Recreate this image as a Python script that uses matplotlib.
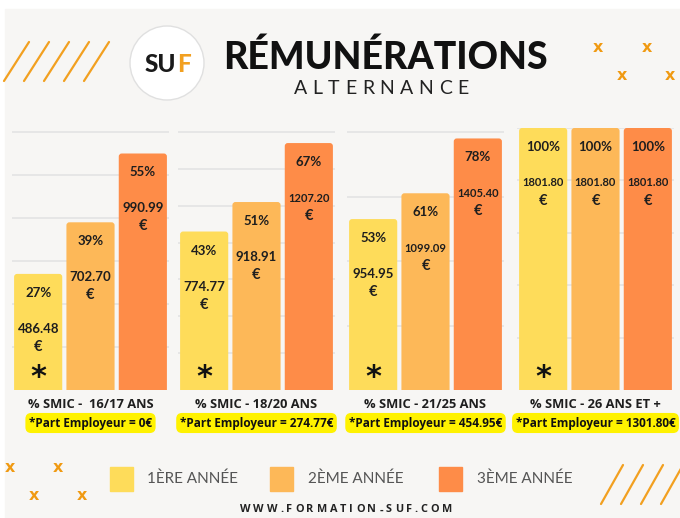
import matplotlib
matplotlib.use("Agg")
import matplotlib.pyplot as plt
from matplotlib.patches import Circle, Rectangle, FancyBboxPatch

# ---------------- data ----------------
categories = ["% SMIC -  16/17 ANS", "% SMIC - 18/20 ANS",
              "% SMIC - 21/25 ANS", "% SMIC - 26 ANS ET +"]
years = ["1ÈRE ANNÉE", "2ÈME ANNÉE", "3ÈME ANNÉE"]
pct_16_17 = [27, 39, 55]
pct_18_20 = [43, 51, 67]
pct_21_25 = [53, 61, 78]
pct_26_plus = [100, 100, 100]
eur_16_17 = [486.48, 702.70, 990.99]
eur_18_20 = [774.77, 918.91, 1207.20]
eur_21_25 = [954.95, 1099.09, 1405.40]
eur_26_plus = [1801.80, 1801.80, 1801.80]
employer_part = ["0€", "274.77€", "454.95€", "1301.80€"]
grid_max = [60, 70, 80, 100]
grid_step = [10, 10, 20, 20]

pcts = [pct_16_17, pct_18_20, pct_21_25, pct_26_plus]
eurs = [eur_16_17, eur_18_20, eur_21_25, eur_26_plus]

# ---------------- style ----------------
W, H = 680, 518
BG = "#F7F6F4"
COLORS = ["#FEDC5A", "#FDB858", "#FE8C48"]
ACCENT = "#F2A020"
TXT = "#1E1E1E"

fig = plt.figure(figsize=(W / 100, H / 100), dpi=100, facecolor="white")
bg = fig.add_axes([0, 0, 1, 1], zorder=0)
bg.set_xlim(0, W)
bg.set_ylim(H, 0)
bg.axis("off")
bg.add_patch(Rectangle((5, 9), W - 5, H - 9, color=BG, zorder=0))

renderer = fig.canvas.get_renderer()


def tracked(xc, y, s, spacing, **kw):
    widths = []
    for ch in s:
        t = bg.text(0, 0, ch, **kw)
        widths.append(t.get_window_extent(renderer=renderer).width)
        t.remove()
    total = sum(widths) + spacing * (len(s) - 1)
    x = xc - total / 2
    for ch, w in zip(s, widths):
        bg.text(x + w / 2, y, ch, ha="center", va="center", **kw)
        x += w + spacing


# decorative stripes
for i in range(5):
    x0 = 4 + 20 * i
    bg.plot([x0, x0 + 25], [81, 42], color=ACCENT, lw=1.6, solid_capstyle="round", zorder=1)
for i in range(5):
    x0 = 601 + 20 * i
    bg.plot([x0, x0 + 22], [504, 465], color=ACCENT, lw=1.6, solid_capstyle="round", zorder=1)

# x marks
for (x, y) in [(598, 47), (647, 47), (622, 76), (670, 76),
               (10, 468), (58, 468), (34, 496), (82, 496)]:
    bg.text(x, y, "x", color="#F09A12", fontsize=11.5, fontweight="bold",
            family="DejaVu Sans", ha="center", va="center", zorder=2)

# logo
bg.add_patch(Circle((167, 63), 37, fc="white", ec="#E0E0E0", lw=1.0, zorder=2))
bg.text(176, 64, "SU", ha="right", va="center", fontsize=17.5, fontweight="black",
        family="Lato", color="#1A1A1A", zorder=3)
bg.text(177, 64, "F", ha="left", va="center", fontsize=17.5, fontweight="black",
        family="Lato", color=ACCENT, zorder=3)

# title
bg.text(385, 57, "RÉMUNÉRATIONS", ha="center", va="center", fontsize=27,
        fontweight="black", family="Lato", color="#111111", zorder=3)
tracked(381, 89, "ALTERNANCE", 5.5, fontsize=14, family="Lato", color="#222222", zorder=3)

# ---------------- panels ----------------
lefts = [12, 178, 347, 517]
pw = 157
top_px, base_px = 128, 390
ph = base_px - top_px
R_PX = 3.0
for k in range(4):
    ax = fig.add_axes([lefts[k] / W, (H - base_px) / H, pw / W, ph / H], zorder=2)
    ax.set_facecolor("none")
    for s in ax.spines.values():
        s.set_visible(False)
    ymax = grid_max[k] * ph / (ph - (4 if k < 3 else 0))
    ax.set_ylim(0, ymax)
    ax.set_xlim(-0.5, 2.5)
    ax.set_yticks(list(range(grid_step[k], grid_max[k] + 1, grid_step[k])))
    ax.set_xticks([])
    ax.tick_params(left=False, labelleft=False)
    ax.yaxis.grid(True, color="#E6E6E6", lw=1.4, zorder=0)
    ax.set_axisbelow(True)

    bars = ax.bar(range(3), pcts[k], width=0.92, color=COLORS, zorder=3)
    # round the top corners of each bar (same geometry, same colour)
    xpx = pw / 3.0
    ypx = ph / ymax
    r = R_PX / xpx
    aspect = (R_PX / ypx) / r
    for rect in bars:
        x, w, h = rect.get_x(), rect.get_width(), rect.get_height()
        fc = rect.get_facecolor()
        rect.set_visible(False)
        ax.add_patch(FancyBboxPatch((x, -3 * R_PX / ypx), w, h + 3 * R_PX / ypx,
                                    boxstyle=f"round,pad=0,rounding_size={r}",
                                    mutation_aspect=aspect, fc=fc, ec="none", zorder=3))

    for i in range(3):
        p, e = pcts[k][i], eurs[k][i]
        ax.annotate(f"{p}%", xy=(i, p), xytext=(0, -19 * 0.72), textcoords="offset points",
                    ha="center", va="center", fontsize=9.5, fontweight="bold",
                    family="Lato", color=TXT, zorder=4)
        es = f"{e:.2f}"
        ax.annotate(es, xy=(i, p), xytext=(0, -55 * 0.72), textcoords="offset points",
                    ha="center", va="center", fontsize=8 if len(es) > 6 else 9.5,
                    fontweight="bold", family="Lato", color=TXT, zorder=4)
        ax.annotate("€", xy=(i, p), xytext=(0, -73 * 0.72), textcoords="offset points",
                    ha="center", va="center", fontsize=10.5, fontweight="bold",
                    family="Lato", color=TXT, zorder=4)
    ax.annotate("*", xy=(0, 0), xytext=(0, 13 * 0.72), textcoords="offset points",
                ha="center", va="center", fontsize=22, fontweight="bold",
                family="DejaVu Sans", color="#111111", zorder=4)

    xc = lefts[k] + pw / 2
    bg.text(xc, 404, categories[k], ha="center", va="center", fontsize=9.3,
            fontweight="bold", family="Open Sans", color=TXT, zorder=3)
    bg.text(xc, 423, "*Part Employeur = " + employer_part[k], ha="center", va="center",
            fontsize=8.5, fontweight="bold", family="Open Sans", color="#111111", zorder=3,
            bbox=dict(boxstyle="round,pad=0.3,rounding_size=0.5", fc="#FFF200", ec="none"))

# ---------------- legend ----------------
sq_x = [110, 270, 439]
txt_x = [147, 308, 477]
for i in range(3):
    bg.add_patch(Rectangle((sq_x[i], 467), 23, 24, color=COLORS[i], zorder=3))
    bg.text(txt_x[i], 479, years[i], ha="left", va="center", fontsize=11,
            family="Lato", color="#555555", zorder=3)

tracked(346, 510, "WWW.FORMATION-SUF.COM", 2.9, fontsize=7.8, fontweight="bold",
        family="Open Sans", color="#222222", zorder=3)

fig.savefig("out.png", dpi=100, facecolor="white")
